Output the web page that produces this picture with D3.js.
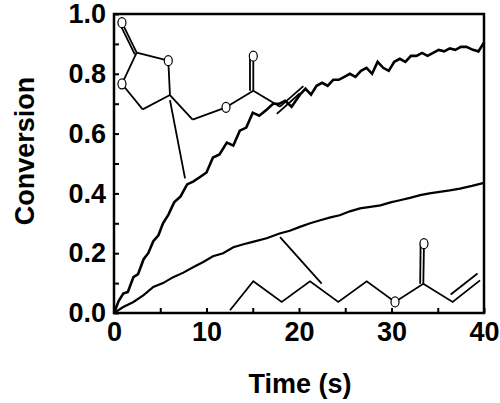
<!DOCTYPE html><html><head><script src="https://cdn.jsdelivr.net/npm/d3@7"></script>
<style>body{margin:0;background:#fff}</style></head><body><svg id="c" width="500" height="403"></svg><script>
const xTicks=[0,10,20,30,40];
const yTicks=[0,0.2,0.4,0.6,0.8,1.0];
const timeTop=[0,0.5,1,1.5,2.1,2.6,3.2,3.7,4.25,4.8,5.3,5.9,6.5,7.2,7.9,8.6,9.3,10,10.7,11.4,12.2,12.9,13.6,14.3,15,15.7,16.5,17.2,17.9,18.5,19.2,20.1,20.7,21.3,21.9,22.5,23.1,23.7,24.3,24.9,25.5,26.1,26.7,27.3,27.9,28.5,29.1,29.7,30.3,30.9,31.5,32.1,32.7,33.3,33.9,34.5,35.1,35.7,36.3,36.9,37.5,38.1,38.8,39.4,40];
const convTop=[0,0.04,0.065,0.07,0.12,0.13,0.18,0.2,0.24,0.26,0.30,0.33,0.37,0.39,0.43,0.44,0.455,0.47,0.52,0.53,0.57,0.56,0.61,0.62,0.67,0.66,0.68,0.7,0.70,0.71,0.69,0.73,0.75,0.73,0.76,0.77,0.76,0.78,0.78,0.79,0.80,0.79,0.81,0.82,0.80,0.84,0.82,0.81,0.84,0.85,0.84,0.86,0.86,0.87,0.86,0.87,0.88,0.875,0.885,0.88,0.89,0.89,0.88,0.875,0.905];
const timeBot=[0,1,2.1,3.2,4.25,5.3,6.4,7.5,8.6,9.6,10.7,11.8,12.9,14,15,16.5,17.9,19,20.1,21.2,22.3,23.4,24.4,25.5,26.6,27.7,28.8,29.9,30.9,32,33.1,34.1,35.2,36.3,37.4,38.7,40];
const convBot=[0,0.02,0.037,0.06,0.087,0.1,0.12,0.135,0.154,0.17,0.19,0.2,0.22,0.23,0.238,0.25,0.266,0.275,0.288,0.3,0.31,0.32,0.327,0.34,0.35,0.355,0.36,0.37,0.377,0.385,0.394,0.4,0.405,0.41,0.416,0.425,0.435];
const mol1Bonds=[[[2.45,0.871],[5.87,0.844]],[[2.45,0.871],[0.86,0.766]],[[0.86,0.766],[3.10,0.681]],[[3.10,0.681],[6.05,0.729]],[[6.05,0.729],[5.87,0.844]],[[6.05,0.729],[8.50,0.647]],[[8.50,0.647],[12.11,0.688]],[[12.11,0.688],[15.06,0.743]],[[15.06,0.743],[17.95,0.690]],[[17.95,0.690],[20.47,0.759]],[[15.06,0.743],[15.06,0.859]],[[2.45,0.871],[0.86,0.971]]];
const mol1Double=[[[2.25,0.865],[0.66,0.965]],[[14.7,0.743],[14.7,0.859]],[[17.6,0.666],[20.1,0.735]]];
const mol1O=[[0.86,0.971],[5.87,0.844],[0.86,0.766],[12.11,0.688],[15.06,0.859]];
const mol2Chain=[[12.54,0.009],[15.06,0.106],[18.13,0.037],[21.19,0.106],[24.25,0.037],[27.32,0.106],[30.38,0.037],[33.44,0.098],[36.61,0.037],[39.57,0.109]];
const mol2Double=[[[33.44,0.098],[33.51,0.232]],[[33.1,0.098],[33.15,0.232]],[[36.4,0.062],[39.3,0.132]]];
const mol2O=[[30.38,0.037],[33.51,0.232]];
const arrows=[[[6.05,0.712],[7.68,0.450]],[[22.45,0.098],[17.95,0.254]]];

const svg=d3.select("#c");
const x=d3.scaleLinear().domain([0,40]).range([114,484]);
const y=d3.scaleLinear().domain([0,1]).range([313,14]);
const font="'Liberation Sans',Arial,sans-serif";
const styleTicks=g=>{g.select(".domain").remove();g.selectAll("line").attr("stroke-width",2);g.selectAll("text").attr("font-family",font).attr("font-weight","bold").attr("font-size",27).attr("fill","#000");};
svg.append("g").attr("transform","translate(0,313)").call(d3.axisBottom(x).tickValues(d3.range(0,41,5)).tickSize(-5).tickFormat(d=>xTicks.includes(d)?d:"").tickPadding(9)).call(styleTicks);
svg.append("g").attr("transform","translate(114,0)").call(d3.axisLeft(y).tickValues(d3.range(0,1.01,0.1)).tickSize(-5).tickFormat(d=>yTicks.some(v=>Math.abs(v-d)<1e-6)?d3.format(".1f")(d):"").tickPadding(8)).call(styleTicks);
svg.append("rect").attr("x",114).attr("y",14).attr("width",370).attr("height",299).attr("fill","none").attr("stroke","#000").attr("stroke-width",2.5);
const line=d3.line().x(d=>x(d[0])).y(d=>y(d[1]));
svg.append("path").attr("d",line(timeTop.map((t,i)=>[t,convTop[i]]))).attr("fill","none").attr("stroke","#000").attr("stroke-width",2.6);
svg.append("path").attr("d",line(timeBot.map((t,i)=>[t,convBot[i]]))).attr("fill","none").attr("stroke","#000").attr("stroke-width",2.2);
const st=(sel)=>sel.attr("fill","none").attr("stroke","#000").attr("stroke-width",1.8);
[...mol1Bonds,...mol1Double,...mol2Double,...arrows].forEach(b=>st(svg.append("path").attr("d",line(b))));
st(svg.append("path").attr("d",line(mol2Chain)));
[...mol1O,...mol2O].forEach(p=>svg.append("ellipse").attr("cx",x(p[0])).attr("cy",y(p[1])).attr("rx",4).attr("ry",5).attr("fill","#fff").attr("stroke","#000").attr("stroke-width",1.2));
svg.append("text").attr("x",300).attr("y",393).attr("text-anchor","middle").attr("font-family",font).attr("font-weight","bold").attr("font-size",27).text("Time (s)");
svg.append("text").attr("transform","translate(34,151) rotate(-90)").attr("text-anchor","middle").attr("font-family",font).attr("font-weight","bold").attr("font-size",27).text("Conversion");
</script></body></html>
